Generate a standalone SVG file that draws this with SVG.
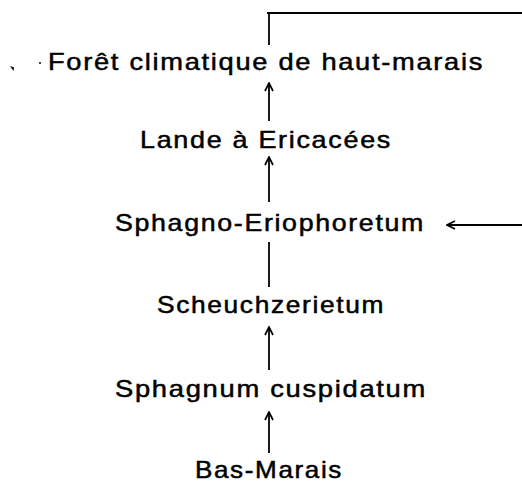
<svg xmlns="http://www.w3.org/2000/svg" width="522" height="482" viewBox="0 0 522 482">
<style>
text{font-family:"Liberation Sans",Arial,sans-serif;font-size:24px;letter-spacing:1.5px;fill:#000;stroke:#000;stroke-width:0.5}
.c line{stroke:#000;stroke-width:1.8}
</style>
<defs>
<marker id="ah" viewBox="0 0 10 10" refX="9" refY="5" markerWidth="10" markerHeight="10" markerUnits="userSpaceOnUse" orient="auto">
<path d="M1,1 L9,5 L1,9" fill="none" stroke="#000" stroke-width="1.7"/>
</marker>
</defs>
<rect width="522" height="482" fill="#fff"/>
<g id="marks">
<path d="M10,66 L14,67.5 L13.5,71 Z" fill="#000"/>
<circle cx="40" cy="63" r="1" fill="#000"/>
</g>
<g id="n1"><text x="48" y="70" textLength="436" lengthAdjust="spacingAndGlyphs">Forêt climatique de haut-marais</text></g>
<g id="n2"><text x="140" y="148" textLength="252" lengthAdjust="spacingAndGlyphs">Lande à Ericacées</text></g>
<g id="n3"><text x="115" y="231" textLength="310" lengthAdjust="spacingAndGlyphs">Sphagno-Eriophoretum</text></g>
<g id="n4"><text x="157" y="313" textLength="228" lengthAdjust="spacingAndGlyphs">Scheuchzerietum</text></g>
<g id="n5"><text x="115" y="397" textLength="312" lengthAdjust="spacingAndGlyphs">Sphagnum cuspidatum</text></g>
<g id="n6"><text x="195" y="478" textLength="148" lengthAdjust="spacingAndGlyphs">Bas-Marais</text></g>
<g class="c" id="connectors">
<line x1="267" y1="13" x2="522" y2="13"/>
<line x1="269" y1="14" x2="269" y2="45"/>
<line x1="269" y1="121" x2="269" y2="83" marker-end="url(#ah)"/>
<line x1="269" y1="202" x2="269" y2="157" marker-end="url(#ah)"/>
<line x1="269" y1="242" x2="269" y2="287"/>
<line x1="522" y1="225" x2="447" y2="225" marker-end="url(#ah)"/>
<line x1="269" y1="370" x2="269" y2="327" marker-end="url(#ah)"/>
<line x1="269" y1="453" x2="269" y2="412" marker-end="url(#ah)"/>
</g>
</svg>
